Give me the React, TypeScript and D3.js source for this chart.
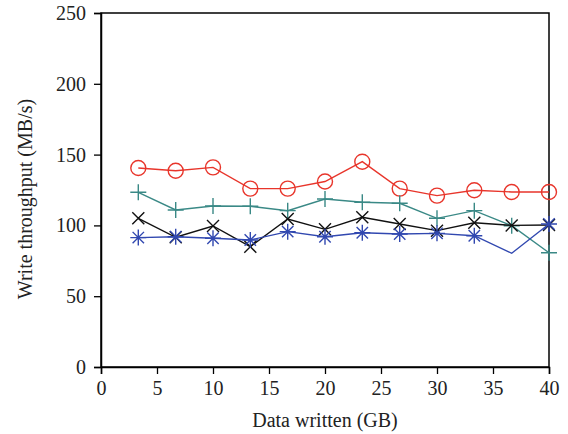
import React, { useEffect, useRef } from 'react';
import * as d3 from 'd3';

// x positions (GB written)
const dataWritten = [3.33, 6.67, 10, 13.33, 16.67, 20, 23.33, 26.67, 30, 33.33, 36.67, 40];

const redCircle = [140.5, 138.6, 141, 126, 126, 131, 145, 126, 121, 124.8, 123.6, 123.6];
const tealPlus = [123.4, 110.9, 113.7, 113.5, 110.4, 118.6, 116.3, 115.6, 105, 110.4, 99.8, 80.7];
const blackCross = [105, 91.6, 99.6, 85, 104.5, 97.2, 105.7, 101, 96.3, 101.9, 100, 100.3];
const blueStar = [91.4, 92, 90.9, 89.7, 95.6, 92, 94.8, 93.9, 94.4, 92.7, 80.3, 101];
// blue has no marker at 36.67 GB in the original
const blueNoMarker = [10];

const xTicks = [0, 5, 10, 15, 20, 25, 30, 35, 40];
const yTicks = [0, 50, 100, 150, 200, 250];

const FONT = '"Liberation Serif", "DejaVu Serif", serif';

const App = () => {
  const svgRef = useRef<SVGSVGElement>(null);

  useEffect(() => {
    const width = 568;
    const height = 434;
    const margin = { top: 13, right: 19, bottom: 67, left: 101 };

    const svg = d3.select(svgRef.current);
    svg.selectAll('*').remove();
    svg.attr('width', width).attr('height', height).style('font-family', FONT);

    const x = d3.scaleLinear().domain([0, 40]).range([margin.left, width - margin.right]);
    const y = d3.scaleLinear().domain([0, 250]).range([height - margin.bottom, margin.top]);

    // frame
    svg.append('rect')
      .attr('x', x(0)).attr('y', y(250))
      .attr('width', x(40) - x(0)).attr('height', y(0) - y(250))
      .attr('fill', 'none').attr('stroke', '#000').attr('stroke-width', 1.5);

    const xAxis = svg.append('g')
      .attr('transform', `translate(0,${y(0)})`)
      .call(d3.axisBottom(x).tickValues(xTicks).tickSize(7).tickPadding(7));
    const yAxis = svg.append('g')
      .attr('transform', `translate(${x(0)},0)`)
      .call(d3.axisLeft(y).tickValues(yTicks).tickSize(7).tickPadding(8));

    [xAxis, yAxis].forEach(a => {
      a.attr('font-size', null).attr('font-family', null);
      a.select('.domain').attr('stroke-width', 1.5);
      a.selectAll('line').attr('stroke-width', 1.3);
      a.selectAll('text')
        .style('font-family', FONT)
        .style('font-size', '20px')
        .attr('fill', '#222');
    });

    svg.append('text')
      .attr('x', (x(0) + x(40)) / 2)
      .attr('y', 427)
      .attr('text-anchor', 'middle')
      .style('font-size', '20px')
      .attr('fill', '#222')
      .text('Data written (GB)');

    svg.append('text')
      .attr('transform', `translate(32,${(y(0) + y(250)) / 2 + 9}) rotate(-90)`)
      .attr('text-anchor', 'middle')
      .style('font-size', '20px')
      .attr('fill', '#222')
      .text('Write throughput (MB/s)');

    const line = d3.line<number>()
      .x((_, i) => x(dataWritten[i]))
      .y(d => y(d));

    const series = [
      { values: redCircle, color: '#e8352b', marker: 'circle' },
      { values: tealPlus, color: '#3a8986', marker: 'plus' },
      { values: blackCross, color: '#111111', marker: 'cross' },
      { values: blueStar, color: '#3148b0', marker: 'star' },
    ];

    series.forEach(s => {
      const g = svg.append('g');
      g.append('path')
        .attr('d', line(s.values))
        .attr('fill', 'none')
        .attr('stroke', s.color)
        .attr('stroke-width', 1.4);

      s.values.forEach((v, i) => {
        if (s.marker === 'star' && blueNoMarker.includes(i)) return;
        const cx = x(dataWritten[i]);
        const cy = y(v);
        const m = g.append('g').attr('transform', `translate(${cx},${cy})`)
          .attr('stroke', s.color).attr('fill', 'none').attr('stroke-width', 1.4);
        if (s.marker === 'circle') {
          m.append('circle').attr('r', 7.5);
        } else if (s.marker === 'plus') {
          m.append('path').attr('d', 'M-8,0H8M0,-8V8');
        } else if (s.marker === 'cross') {
          m.append('path').attr('d', 'M-6,-6L6,6M-6,6L6,-6');
        } else {
          m.append('path').attr('d', 'M-8,0H8M0,-8V8M-5.7,-5.7L5.7,5.7M-5.7,5.7L5.7,-5.7');
        }
      });
    });
  }, []);

  return (
    <div style={{ position: 'absolute', left: 0, top: 0 }}>
      <svg ref={svgRef}></svg>
    </div>
  );
};

export default App;
